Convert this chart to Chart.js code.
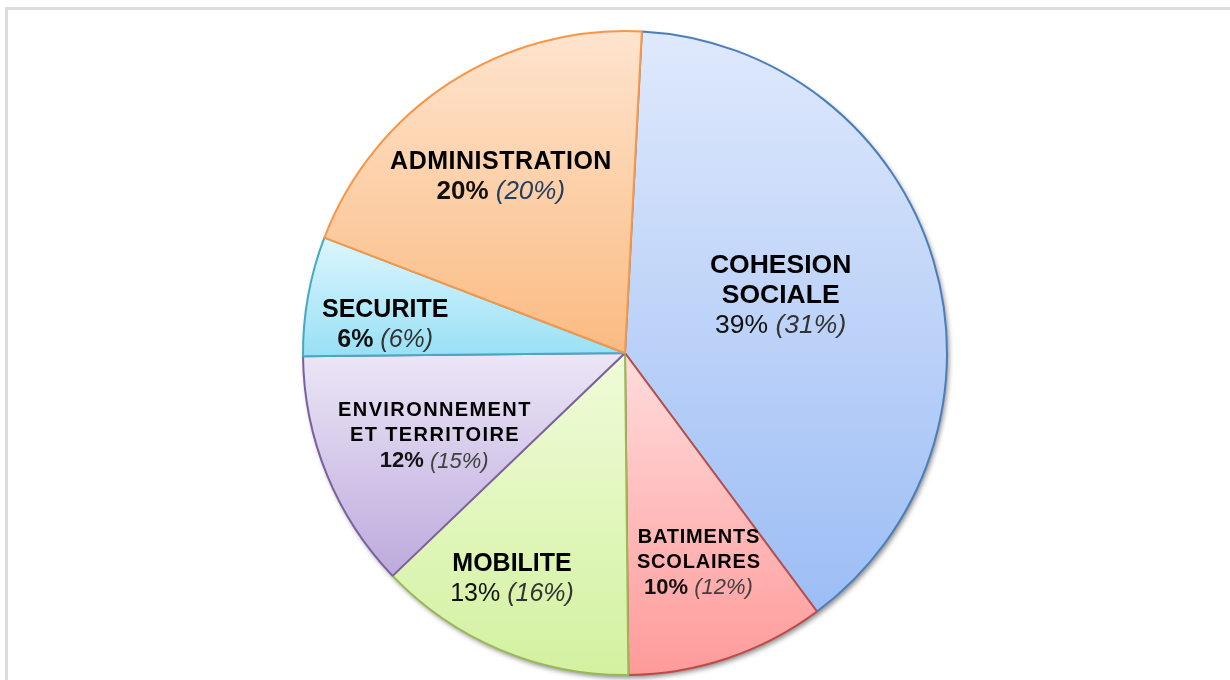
<!DOCTYPE html>
<html>
<head>
<meta charset="utf-8">
<script src="https://cdn.jsdelivr.net/npm/chart.js@4"></script>
<style>
    body { margin: 0; background: #fff; width: 1230px; height: 680px; overflow: hidden; position: relative; }
    .frame { position: absolute; left: 5px; top: 7px; width: 1240px; height: 700px; border-left: 3px solid #dcdcdc; border-top: 3px solid #dcdcdc; }
    .chart-box { position: absolute; left: 295px; top: 23px; width: 660px; height: 660px; }
</style>
</head>
<body>
<div class="frame"></div>
<div class="chart-box"><canvas id="budgetChart"></canvas></div>
<script>
// Chart data
const categories = [['COHESION', 'SOCIALE'], ['BATIMENTS', 'SCOLAIRES'], ['MOBILITE'], ['ENVIRONNEMENT', 'ET TERRITOIRE'], ['SECURITE'], ['ADMINISTRATION']];
const shares = [39, 10, 13, 12, 6, 20];
const previousShares = [31, 12, 16, 15, 6, 20];

// Slice styles
const fillTop = ['#dfe9fc', '#ffdcdc', '#effcd9', '#ece6f6', '#dcf6fe', '#fee4ce'];
const fillBottom = ['#9cbdf5', '#ff9a9a', '#d3f1a0', '#bdaadd', '#98e0f5', '#fbbb82'];
const borders = ['#4a7ebb', '#be4b48', '#98b954', '#7d60a0', '#46aac5', '#f79646'];

// Label placement inside each slice: [fraction along the arc, fraction of radius]
const labelPlace = [[0.476, 0.515], [0.48, 0.69], [0.58, 0.785], [0.47, 0.646], [0.34, 0.75], [0.47, 0.67]];
const labelSize = [26.5, 20, 25, 20, 25, 25];
const percentSize = [26.5, 22, 25, 22, 25, 26];
const labelSpacing = [0, 0.8, 0, 1.4, 0, 0.5];
const percentBold = [false, true, false, true, true, true];
const previousColor = ['#333333', '#404040', '#333333', '#404040', '#333333', '#243e5f'];

const ROTATION = 3;
const RADIUS = 322;

// vertical gradient over the bounding box of each slice
function sliceGradient(c) {
    const chart = c.chart;
    const area = chart.chartArea;
    const i = c.dataIndex;
    if (!area) return fillBottom[i];
    const cy = (area.top + area.bottom) / 2;
    const total = shares.reduce((a, b) => a + b, 0);
    let start = -Math.PI / 2 + ROTATION * Math.PI / 180;
    for (let k = 0; k < i; k++) start += 2 * Math.PI * shares[k] / total;
    const end = start + 2 * Math.PI * shares[i] / total;
    const ys = [cy, cy + Math.sin(start) * RADIUS, cy + Math.sin(end) * RADIUS];
    for (let a = -Math.PI / 2; a < 4 * Math.PI; a += Math.PI) {
        if (a > start && a < end) ys.push(cy + Math.sin(a) * RADIUS);
    }
    const g = chart.ctx.createLinearGradient(0, Math.min(...ys), 0, Math.max(...ys));
    g.addColorStop(0, fillTop[i]);
    g.addColorStop(1, fillBottom[i]);
    return g;
}

// soft shadow under the pie
const shadowPlugin = {
    id: 'pieShadow',
    beforeDatasetsDraw(chart) {
        const arc = chart.getDatasetMeta(0).data[0];
        if (!arc) return;
        const ctx = chart.ctx;
        ctx.save();
        ctx.shadowColor = 'rgba(0, 0, 0, 0.45)';
        ctx.shadowBlur = 5;
        ctx.shadowOffsetX = 2;
        ctx.shadowOffsetY = 3;
        ctx.fillStyle = '#ffffff';
        ctx.beginPath();
        ctx.arc(arc.x, arc.y, arc.outerRadius, 0, Math.PI * 2);
        ctx.fill();
        ctx.restore();
    }
};

// labels written inside the slices
const labelPlugin = {
    id: 'sliceLabels',
    afterDatasetsDraw(chart) {
        const ctx = chart.ctx;
        chart.getDatasetMeta(0).data.forEach((arc, i) => {
            const angle = arc.startAngle + labelPlace[i][0] * (arc.endAngle - arc.startAngle);
            const r = labelPlace[i][1] * arc.outerRadius;
            const x = arc.x + Math.cos(angle) * r;
            const y = arc.y + Math.sin(angle) * r;
            const size = labelSize[i];
            const lineH = size >= 24 ? 30 : 25.5;
            const lines = categories[i].length + 1;
            let ly = y - (lines - 1) * lineH / 2;

            ctx.save();
            ctx.textBaseline = 'middle';
            ctx.textAlign = 'center';
            ctx.fillStyle = '#000000';
            ctx.font = 'bold ' + size + 'px "Liberation Sans", Arial, sans-serif';
            ctx.letterSpacing = labelSpacing[i] + 'px';
            categories[i].forEach(line => {
                ctx.fillText(line, x + labelSpacing[i] / 2, ly);
                ly += lineH;
            });

            // percentage line: current share, then previous share in italics
            ctx.letterSpacing = '0px';
            ctx.textAlign = 'left';
            const pSize = percentSize[i];
            const fontA = (percentBold[i] ? 'bold ' : '') + pSize + 'px "Liberation Sans", Arial, sans-serif';
            const fontB = 'italic ' + pSize + 'px "Liberation Sans", Arial, sans-serif';
            const partA = shares[i] + '% ';
            const partB = '(' + previousShares[i] + '%)';
            ctx.font = fontA;
            const wA = ctx.measureText(partA).width;
            ctx.font = fontB;
            const wB = ctx.measureText(partB).width;
            const x0 = x - (wA + wB) / 2;
            ctx.font = fontA;
            ctx.fillStyle = '#111111';
            ctx.fillText(partA, x0, ly);
            ctx.font = fontB;
            ctx.fillStyle = previousColor[i];
            ctx.fillText(partB, x0 + wA, ly);
            ctx.restore();
        });
    }
};

const ctx = document.getElementById('budgetChart').getContext('2d');

const config = {
    type: 'pie',
    data: {
        labels: categories.map(c => c.join(' ')),
        datasets: [{
            data: shares,
            backgroundColor: sliceGradient,
            borderColor: borders,
            borderWidth: 2,
            hoverOffset: 0
        }]
    },
    options: {
        responsive: true,
        maintainAspectRatio: false,
        animation: false,
        rotation: ROTATION,
        radius: RADIUS,
        layout: { padding: 0 },
        plugins: {
            legend: { display: false },
            tooltip: { enabled: false }
        }
    },
    plugins: [shadowPlugin, labelPlugin]
};

// Create the chart
new Chart(ctx, config);
</script>
</body>
</html>
